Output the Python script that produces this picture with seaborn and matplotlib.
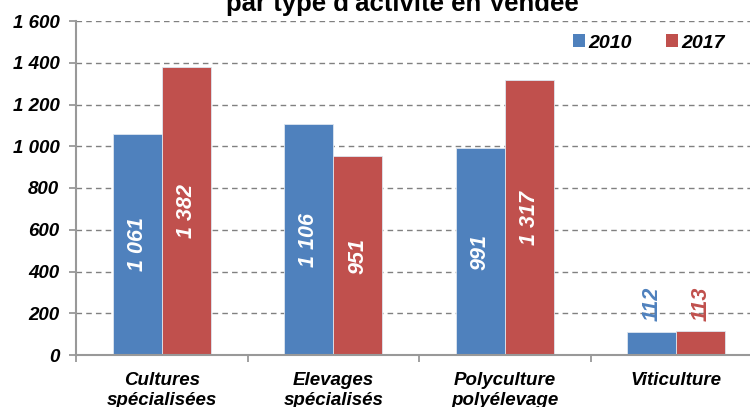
import matplotlib
matplotlib.use("Agg")
import matplotlib.pyplot as plt
import seaborn as sns
import pandas as pd
from matplotlib.patches import Patch
from matplotlib.ticker import FixedLocator, FuncFormatter

categories = ["Cultures\nspécialisées", "Elevages\nspécialisés", "Polyculture\npolyélevage", "Viticulture"]
years = ["2010", "2017"]
values_2010 = [1061, 1106, 991, 112]
values_2017 = [1382, 951, 1317, 113]
yticks = [0, 200, 400, 600, 800, 1000, 1200, 1400, 1600]
title = "par type d'activité en Vendée"

colors = {"2010": "#4F81BD", "2017": "#C0504D"}

df = pd.DataFrame({
    "cat": categories * 2,
    "year": [years[0]] * 4 + [years[1]] * 4,
    "value": values_2010 + values_2017,
})

sns.set_theme(style="white")
plt.rcParams["font.family"] = ["Liberation Sans", "DejaVu Sans"]
plt.rcParams["text.color"] = "black"
plt.rcParams["xtick.color"] = "black"
plt.rcParams["ytick.color"] = "black"

def fmt(v):
    return f"{int(v):,}".replace(",", " ")

fig = plt.figure(figsize=(7.5, 4.07), dpi=100)
ax = fig.add_axes([76 / 750, 52 / 407, 686 / 750, 334 / 407])

sns.barplot(data=df, x="cat", y="value", hue="year", palette=colors,
            order=categories, hue_order=years, width=0.57, ax=ax, saturation=1,
            edgecolor="#dde6f0", linewidth=0.6, legend=False, zorder=3)

ax.set_xlim(-0.5, 3.5)
ax.set_ylim(0, 1600)
ax.set_xlabel("")
ax.set_ylabel("")

ax.yaxis.set_major_locator(FixedLocator(yticks))
ax.yaxis.set_major_formatter(FuncFormatter(lambda v, p: fmt(v)))
ax.grid(axis="y", color="#808080", linestyle=(0, (4, 3)), linewidth=1.0, zorder=0)
ax.grid(axis="x", visible=False)

# x ticks: boundaries as major marks, labels at centers as minor
ax.set_xticks([-0.5, 0.5, 1.5, 2.5, 3.5])
ax.set_xticklabels([])
ax.set_xticks([0, 1, 2, 3], minor=True)
ax.set_xticklabels(categories, minor=True, fontsize=13.5, fontweight="bold",
                   fontstyle="italic", linespacing=1.2, color="black")
ax.tick_params(axis="x", which="major", length=5, width=1.3, color="#999999", direction="out", bottom=True)
ax.tick_params(axis="x", which="minor", length=0, pad=12.5, bottom=True)
ax.tick_params(axis="y", length=5, width=1.3, color="#999999", labelcolor="black",
               direction="out", pad=7, left=True)
for lab in ax.get_yticklabels():
    lab.set_fontsize(13.5)
    lab.set_fontweight("bold")
    lab.set_fontstyle("italic")

for s in ["top", "right"]:
    ax.spines[s].set_visible(False)
for s in ["left", "bottom"]:
    ax.spines[s].set_color("#999999")
    ax.spines[s].set_linewidth(1.5)
    ax.spines[s].set_zorder(4)

for cont, yr in zip(ax.containers, years):
    for bar in cont:
        h = bar.get_height()
        xc = bar.get_x() + bar.get_width() / 2
        if h > 300:
            ax.text(xc, h / 2, fmt(h), rotation=90, ha="center", va="center",
                    color="white", fontsize=15.5, fontweight="bold", fontstyle="italic", zorder=5)
        else:
            ax.text(xc, h + 52, fmt(h), rotation=90, ha="center", va="bottom",
                    color=colors[yr], fontsize=15.5, fontweight="bold", fontstyle="italic", zorder=5)

handles = [Patch(facecolor=colors[y], edgecolor="none") for y in years]
fig.legend(handles, years, loc="center", bbox_to_anchor=(649 / 750, 1 - 43 / 407),
           ncol=2, frameon=False, handlelength=0.6, handleheight=0.6, handletextpad=0.18,
           columnspacing=1.75, prop={"weight": "bold", "style": "italic", "size": 14})

fig.text(402 / 750, 1 - 10.5 / 407, title, ha="center", va="baseline",
         fontsize=18.5, fontweight="bold", color="black")

fig.savefig("out.png", dpi=100)
